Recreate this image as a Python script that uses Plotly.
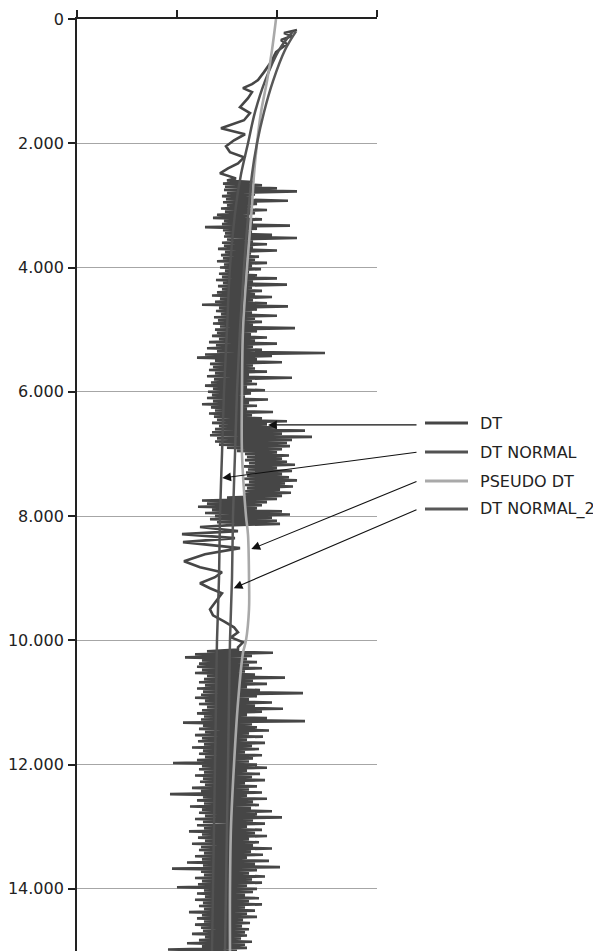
import numpy as np
import plotly.graph_objects as go

# ---------------- axis ticks ----------------
DEPTH_TICKS = [0, 2000, 4000, 6000, 8000, 10000, 12000, 14000]
DEPTH_TICK_TEXT = ["0", "2.000", "4.000", "6.000", "8.000", "10.000", "12.000", "14.000"]
X_TICKS = [0, 100, 200, 300]

# ---------------- DT (measured sonic) ----------------
# upper, sparsely sampled section
DT_TOP_DEPTH = [177, 226, 274, 339, 403, 532, 694, 855, 984, 1048, 1113, 1177, 1274,
                1419, 1516, 1629, 1758, 1855, 1952, 2048, 2145, 2226, 2323, 2403, 2484, 2565]
DT_TOP_VAL = [220, 207, 215, 204, 210, 199, 194, 187, 181, 175, 166, 175, 171,
              163, 173, 167, 144, 168, 157, 149, 153, 167, 161, 151, 143, 159]

# densely sampled section 1 (2600 ft onward, 25 ft samples)
DT_DENSE1_START = 2600
DT_DENSE1_STEP = 25
DT_DENSE1_VAL = [
    150, 176, 146, 185, 148, 200, 147, 220, 150, 178,
    145, 175, 149, 211, 146, 180, 150, 174, 144, 190,
    148, 178, 140, 172, 136, 185, 147, 176, 145, 213,
    128, 180, 146, 175, 148, 195, 147, 220, 150, 176,
    145, 190, 147, 176, 141, 200, 148, 174, 144, 182,
    146, 178, 140, 190, 147, 175, 143, 184, 148, 172,
    142, 180, 145, 200, 139, 176, 146, 210, 141, 175,
    145, 185, 140, 178, 135, 195, 143, 176, 138, 190,
    125, 211, 142, 180, 139, 175, 144, 200, 137, 178,
    141, 185, 136, 176, 143, 218, 138, 180, 140, 174,
    135, 190, 142, 178, 132, 200, 139, 176, 130, 185,
    140, 248, 128, 195, 120, 180, 138, 205, 133, 176,
    136, 178, 132, 190, 138, 172, 130, 215, 137, 175,
    134, 180, 128, 170, 136, 188, 131, 174, 135, 168,
    130, 191, 136, 172, 125, 180, 134, 170, 138, 196,
    132, 175, 137, 185, 140, 210, 135, 190, 142, 200,
    138, 228, 135, 205, 133, 235, 140, 215, 138, 210,
    142, 213, 150, 205, 160, 200, 168, 212, 170, 205,
    168, 210, 172, 218, 167, 200, 171, 215, 169, 205,
    170, 212, 167, 220, 172, 208, 168, 216, 170, 203,
    168, 214, 166, 205, 150, 200, 125, 190, 130, 185,
    121, 180, 135, 205, 128, 213, 138, 195, 133, 200,
    140, 203, 150,
]

# low-resolution section (8200 - 10100 ft)
DT_WAVE_DEPTH = [8177, 8242, 8290, 8355, 8419, 8516, 8613, 8726, 8823, 8903, 8984, 9081,
                 9161, 9242, 9371, 9500, 9597, 9694, 9790, 9871, 9952, 10032, 10113]
DT_WAVE_VAL = [123, 161, 105, 158, 106, 163, 128, 107, 123, 145, 138, 123,
               133, 145, 139, 133, 136, 147, 157, 161, 154, 166, 161]

# densely sampled section 2 (10150 ft onward, 25 ft samples)
DT_DENSE2_START = 10150
DT_DENSE2_STEP = 25
DT_DENSE2_VAL = [
    161, 130, 196, 118, 175, 108, 170, 125, 180, 122,
    172, 120, 185, 125, 168, 118, 178, 130, 208, 127,
    176, 122, 190, 128, 170, 120, 183, 126, 226, 124,
    180, 118, 172, 128, 195, 122, 178, 130, 206, 125,
    185, 120, 170, 127, 190, 124, 228, 106, 175, 126,
    180, 122, 192, 128, 172, 118, 186, 125, 170, 121,
    188, 127, 175, 115, 182, 126, 168, 122, 185, 128,
    176, 120, 172, 96, 180, 125, 190, 122, 170, 127,
    183, 118, 175, 126, 188, 123, 168, 128, 180, 115,
    172, 124, 185, 93, 170, 126, 190, 120, 176, 127,
    182, 113, 174, 125, 195, 122, 180, 128, 205, 118,
    176, 126, 188, 120, 170, 127, 185, 112, 178, 125,
    190, 121, 172, 128, 182, 115, 176, 124, 195, 122,
    174, 127, 186, 118, 170, 125, 192, 110, 178, 126,
    203, 95, 180, 124, 172, 127, 188, 118, 175, 125,
    185, 121, 170, 100, 180, 127, 176, 120, 168, 128,
    182, 118, 172, 126, 185, 122, 168, 127, 178, 112,
    170, 125, 180, 120, 166, 127, 173, 118, 165, 124,
    172, 126, 168, 115, 170, 128, 164, 122, 175, 110,
    168, 125, 170, 91, 160,
]

# ---------------- trend curves ----------------
NORMAL_DEPTH = [200, 500, 1000, 1500, 2000, 2500, 3000, 4000, 5000, 6000, 7000,
                8000, 9000, 10000, 11000, 12000, 13000, 14000, 15000]
NORMAL_VAL = [216, 202, 188, 178, 171, 164, 159, 153, 150, 147, 145,
              143, 142, 140, 139, 138, 137, 136, 135]
NORMAL2_VAL = [219, 208, 196, 187, 180, 175, 172, 167, 163, 160, 158,
               156, 155, 153, 152, 151, 150, 149, 148]

PSEUDO_DEPTH = [0, 500, 1000, 1500, 2000, 2500, 3000, 4000, 5000, 6000, 7000, 8000,
                8300, 9000, 9500, 10000, 10200, 11000, 12000, 13000, 14000, 15000]
PSEUDO_VAL = [199, 195, 190, 184, 180, 177, 175, 170, 166, 165, 165, 169,
              171, 172, 172, 169, 166, 161, 157, 154, 153, 153]

SERIES_NAMES = ["DT", "DT NORMAL", "PSEUDO DT", "DT NORMAL_2"]
SERIES_COLORS = ["#464646", "#525252", "#a9a9a9", "#585858"]
# depths at which the callout arrows touch each curve
CALLOUT_DEPTH = [6533, 7387, 8532, 9161]

# ---------------- assemble DT ----------------
d1 = DT_DENSE1_START + DT_DENSE1_STEP * np.arange(len(DT_DENSE1_VAL))
d2 = DT_DENSE2_START + DT_DENSE2_STEP * np.arange(len(DT_DENSE2_VAL))
dt_depth = np.concatenate([DT_TOP_DEPTH, d1, DT_WAVE_DEPTH, d2])
dt_val = np.concatenate([DT_TOP_VAL, DT_DENSE1_VAL, DT_WAVE_VAL, DT_DENSE2_VAL])

fig = go.Figure()
fig.add_trace(go.Scatter(x=dt_val, y=dt_depth, mode="lines", name=SERIES_NAMES[0],
                         line=dict(color=SERIES_COLORS[0], width=2.6, simplify=False)))
fig.add_trace(go.Scatter(x=NORMAL_VAL, y=NORMAL_DEPTH, mode="lines", name=SERIES_NAMES[1],
                         line=dict(color=SERIES_COLORS[1], width=2.5, shape="spline")))
fig.add_trace(go.Scatter(x=PSEUDO_VAL, y=PSEUDO_DEPTH, mode="lines", name=SERIES_NAMES[2],
                         line=dict(color=SERIES_COLORS[2], width=2.6, shape="spline")))
fig.add_trace(go.Scatter(x=NORMAL2_VAL, y=NORMAL_DEPTH, mode="lines", name=SERIES_NAMES[3],
                         line=dict(color=SERIES_COLORS[3], width=2.5, shape="spline")))

# ---------------- geometry ----------------
# the page body adds an 8px offset; figure size/margins compensate for it
OFF = 8
W, H = 601 - OFF, 951 - OFF
ML, MR, MT, MB = 77 - OFF, 224, 19 - OFF, 0
PW = W - ML - MR
PH = H - MT - MB


def px_x(px):
    return (px - OFF - ML) / PW


def px_y(py):
    return 1 - (py - OFF - MT) / PH


# manual legend on the right
legend_rows = [423, 452, 481, 509]
shapes = []
annotations = []
for name, color, row in zip(SERIES_NAMES, SERIES_COLORS, legend_rows):
    shapes.append(dict(type="line", xref="paper", yref="paper",
                       x0=px_x(425), x1=px_x(468), y0=px_y(row), y1=px_y(row),
                       line=dict(color=color, width=3)))
    annotations.append(dict(xref="paper", yref="paper", x=px_x(478), y=px_y(row),
                            text=name, showarrow=False, xanchor="left", yanchor="middle",
                            font=dict(family="DejaVu Sans", size=16, color="#222")))

# callout arrows from legend rows to the curves
tail_val = 341
heads = [
    191,
    float(np.interp(CALLOUT_DEPTH[1], NORMAL_DEPTH, NORMAL_VAL)) + 1,
    float(np.interp(CALLOUT_DEPTH[2], PSEUDO_DEPTH, PSEUDO_VAL)) + 3,
    float(np.interp(CALLOUT_DEPTH[3], NORMAL_DEPTH, NORMAL2_VAL)) + 2,
]
tail_depths = [(r - OFF - MT) / PH * 15000 for r in legend_rows]
tail_depths[0] = CALLOUT_DEPTH[0]
for hx, hd, td in zip(heads, CALLOUT_DEPTH, tail_depths):
    annotations.append(dict(x=hx, y=hd, xref="x", yref="y", ax=tail_val, ay=td,
                            axref="x", ayref="y", text="", showarrow=True,
                            arrowhead=2, arrowsize=1.6, arrowwidth=1.1, arrowcolor="#111"))

fig.update_layout(
    width=W, height=H,
    margin=dict(l=ML, r=MR, t=MT, b=MB, pad=0, autoexpand=False),
    paper_bgcolor="white", plot_bgcolor="white",
    showlegend=False,
    shapes=shapes, annotations=annotations,
    font=dict(family="DejaVu Sans", size=16, color="#222"),
    xaxis=dict(side="top", range=[0, 300], tickvals=X_TICKS, showticklabels=False,
               ticks="outside", ticklen=7, tickwidth=1.5, tickcolor="#222",
               showline=True, linecolor="#222", linewidth=1.8, showgrid=False,
               zeroline=False),
    yaxis=dict(range=[15000, 0], tickvals=DEPTH_TICKS, ticktext=DEPTH_TICK_TEXT,
               ticks="outside", ticklen=7, tickwidth=1.5, tickcolor="#222",
               showline=True, linecolor="#222", linewidth=1.8, ticklabelstandoff=1,
               showgrid=True, gridcolor="#a6a6a6", gridwidth=1, zeroline=False,
               tickfont=dict(family="DejaVu Sans", size=16, color="#222")),
)

fig.write_html("out.html")
